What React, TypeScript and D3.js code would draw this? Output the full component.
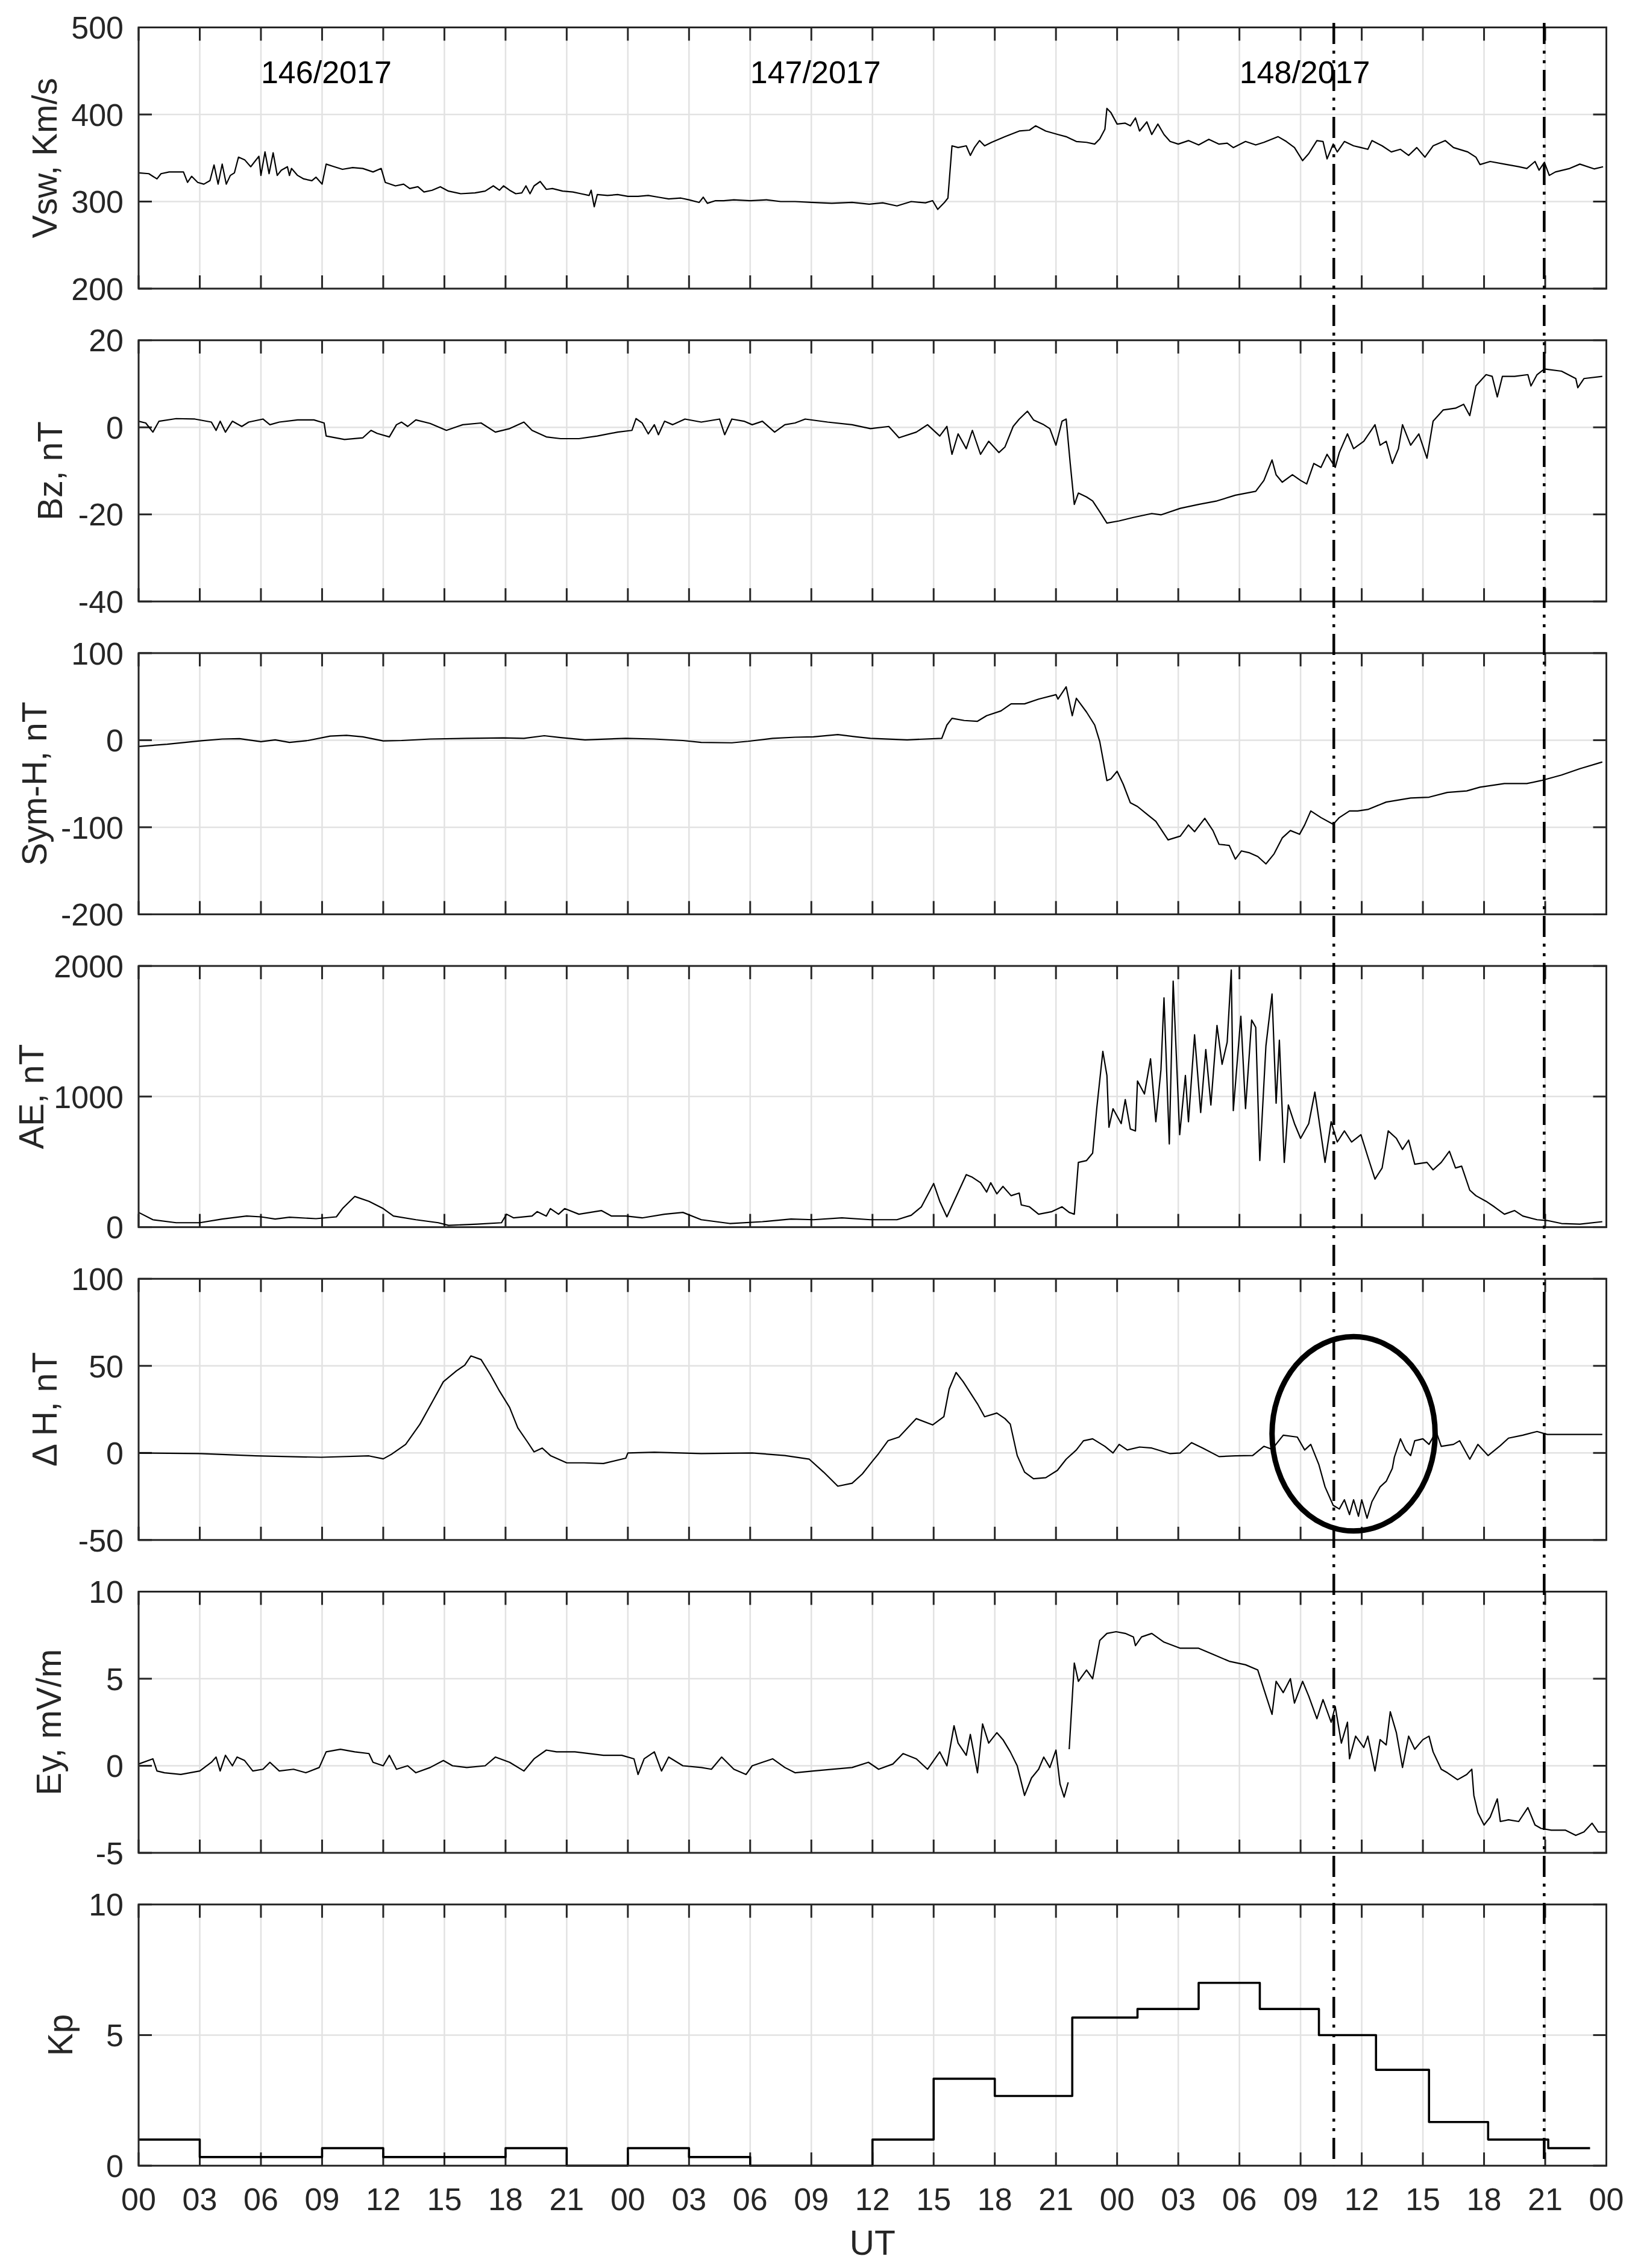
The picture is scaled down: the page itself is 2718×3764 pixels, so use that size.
import React from "react";
import * as d3 from "d3";

const W = 2718;
const H = 3764;
const PLOT_LEFT = 230;
const PLOT_RIGHT = 2665.5;
const PANEL_TOP0 = 45.5;
const PANEL_STEP = 519.2;
const PANEL_H = 433.5;
const FONT = "'Liberation Sans', Arial, Helvetica, sans-serif";
const TXT = "#262626";

const xTickLabels = ["00","03","06","09","12","15","18","21","00","03","06","09","12","15","18","21","00","03","06","09","12","15","18","21","00"];
const xTickHours = [0,3,6,9,12,15,18,21,24,27,30,33,36,39,42,45,48,51,54,57,60,63,66,69,72];
const dayLabels = ["146/2017", "147/2017", "148/2017"];
const dayLabelHours = [6, 30, 54];
const dayLabelValue = 436;
const markerHours = [58.63, 68.95];

const vswData: [number, number][] = [
[0,333],[0.5,332],[0.9,326],[1.1,332],[1.5,334],[2.2,334],[2.4,322],[2.6,329],[2.9,322],[3.2,320],[3.5,324],[3.7,342],[3.9,320],[4.1,343],[4.3,320],[4.5,330],[4.7,333],[4.9,351],[5.2,348],[5.5,340],[5.7,346],[5.9,352],[6.0,330],[6.2,357],[6.4,332],[6.6,356],[6.8,330],[7.0,336],[7.3,340],[7.4,330],[7.5,338],[7.8,330],[8.1,326],[8.5,324],[8.7,328],[9.0,320],[9.2,343],[9.6,340],[10.0,337],[10.5,339],[11.0,338],[11.5,334],[11.9,338],[12.1,322],[12.6,318],[13.0,320],[13.3,315],[13.7,317],[14.0,311],[14.4,313],[14.8,317],[15.2,312],[15.8,309],[16.5,310],[17.0,312],[17.4,318],[17.7,313],[17.9,318],[18.2,313],[18.5,309],[18.8,310],[19.0,318],[19.2,309],[19.4,318],[19.7,323],[20.0,314],[20.3,315],[20.8,312],[21.3,311],[21.7,309],[22.1,307],[22.2,313],[22.35,294],[22.5,308],[23.0,307],[23.5,308],[24.0,306],[24.5,306],[25.0,307],[25.5,305],[26.0,303],[26.6,304],[27.0,302],[27.5,299],[27.7,305],[27.9,298],[28.3,301],[28.7,301],[29.2,302],[30.0,301],[30.8,302],[31.5,300],[32.2,300],[33.0,299],[34.0,298],[35.0,299],[35.84,297],[36.5,298.5],[37.2,295],[37.9,300],[38.6,298.5],[38.95,301],[39.2,291],[39.53,299],[39.7,304],[39.9,364],[40.2,362],[40.6,364],[40.8,353],[41.0,362],[41.25,370],[41.5,364],[41.84,368],[42.5,374.5],[43.2,381],[43.7,382],[44.0,387],[44.5,381],[45.1,377],[45.5,374.5],[46.0,369],[46.5,368],[46.9,366],[47.15,372],[47.4,383],[47.5,407],[47.7,402],[48.0,389],[48.4,390],[48.65,387],[48.9,396],[49.1,381],[49.46,391.5],[49.7,377],[50.0,389],[50.3,377],[50.6,369],[51.0,366],[51.5,370],[52.0,365],[52.5,371.5],[53.0,366],[53.4,367],[53.7,362],[54.3,369],[54.8,365],[55.2,368],[55.9,374.5],[56.3,369],[56.7,362],[57.1,347],[57.4,355],[57.8,370],[58.1,369],[58.3,349],[58.6,366],[58.8,357],[59.15,369],[59.6,364],[59.96,362],[60.3,360],[60.5,370],[61.0,364],[61.45,357],[61.9,360],[62.3,353],[62.7,362],[63.1,351],[63.5,364],[64.1,370],[64.5,362],[65.2,357],[65.6,351],[65.8,342.5],[66.3,346],[67.0,343],[67.7,340],[68.1,338],[68.5,346],[68.7,336],[68.96,345],[69.2,330],[69.5,334],[70.2,338],[70.7,343],[71.4,337.5],[71.84,340]
];

const bzData: [number, number][] = [
[0,1.4],[0.35,1.0],[0.7,-1.1],[1.0,1.4],[1.84,2.0],[2.76,1.9],[3.57,1.2],[3.8,-0.7],[4.0,1.4],[4.26,-1.1],[4.6,1.4],[5.06,0.2],[5.4,1.2],[6.1,1.9],[6.44,0.6],[6.9,1.2],[7.8,1.7],[8.6,1.7],[9.1,1.0],[9.2,-2.0],[10.1,-2.8],[11.0,-2.4],[11.4,-0.7],[11.7,-1.4],[12.3,-2.2],[12.65,0.6],[12.9,1.2],[13.2,0.2],[13.6,1.7],[14.3,0.9],[15.1,-0.7],[15.9,0.6],[16.8,1.0],[17.5,-1.1],[18.2,-0.3],[18.9,1.2],[19.3,-0.7],[20.0,-2.2],[20.7,-2.6],[21.6,-2.6],[22.5,-2.0],[23.5,-1.1],[24.2,-0.7],[24.4,2.0],[24.7,1.0],[25.0,-1.5],[25.3,0.6],[25.5,-1.7],[25.8,1.4],[26.2,0.6],[26.8,1.9],[27.6,1.2],[28.5,1.9],[28.75,-1.7],[29.1,1.9],[29.7,1.4],[30.1,0.6],[30.6,1.4],[31.2,-1.1],[31.7,0.6],[32.2,1.0],[32.7,1.9],[33.8,1.2],[35.0,0.6],[35.9,-0.3],[36.8,0.2],[37.3,-2.4],[38.15,-1.1],[38.7,0.6],[39.3,-2.0],[39.65,0.2],[39.9,-6.2],[40.2,-1.5],[40.6,-4.9],[40.9,-0.7],[41.3,-6.2],[41.7,-3.2],[42.2,-5.8],[42.5,-4.5],[42.9,0.2],[43.2,1.9],[43.6,3.7],[43.9,1.7],[44.4,0.6],[44.7,-0.3],[45.0,-4.1],[45.3,1.4],[45.5,1.9],[45.7,-8.3],[45.9,-17.7],[46.1,-15.1],[46.5,-16],[46.8,-16.9],[47.15,-19.4],[47.5,-22],[48.1,-21.5],[48.8,-20.7],[49.7,-19.8],[50.15,-20.1],[51.1,-18.6],[52.0,-17.7],[52.9,-16.9],[53.8,-15.6],[54.8,-14.7],[55.2,-12.2],[55.6,-7.5],[55.8,-10.9],[56.1,-12.6],[56.6,-10.9],[57.0,-12.2],[57.3,-13.0],[57.65,-8.3],[58.0,-9.2],[58.3,-6.2],[58.7,-9.2],[58.9,-5.8],[59.3,-1.5],[59.6,-4.9],[60.1,-3.2],[60.65,0.6],[60.9,-4.1],[61.2,-3.2],[61.5,-8.3],[61.8,-4.9],[62.0,0.6],[62.4,-4.1],[62.8,-1.5],[63.2,-7.1],[63.5,1.4],[64.0,4.0],[64.6,4.4],[65.0,5.3],[65.3,2.7],[65.6,9.5],[66.1,12.1],[66.4,11.7],[66.65,7.0],[66.9,11.7],[67.5,11.7],[68.15,12.1],[68.3,9.5],[68.6,12.1],[68.96,13.4],[69.8,12.9],[70.5,11.2],[70.6,9.1],[70.9,11.2],[71.8,11.7]
];

const symhData: [number, number][] = [
[0,-7.2],[1.4,-4.7],[3.0,-0.9],[4.1,1.3],[4.95,1.7],[6.0,-1.7],[6.7,0.4],[7.4,-2.6],[8.3,-0.4],[9.4,4.7],[10.2,5.5],[11.0,3.8],[12.0,-0.9],[12.9,-0.4],[14.3,1.3],[16.1,2.1],[17.9,2.6],[18.9,2.1],[19.9,5.1],[20.7,3.0],[21.9,0.4],[23.9,2.1],[25.3,1.3],[26.7,-0.4],[27.6,-2.6],[29.1,-3.0],[29.9,-1.3],[31.1,2.1],[32.2,3.4],[33.1,3.8],[34.3,6.4],[35.2,3.8],[35.9,2.1],[37.7,0.4],[39.4,2.1],[39.65,17.4],[39.9,25.1],[40.5,22.6],[41.15,21.7],[41.6,28.1],[42.3,33.6],[42.8,41.7],[43.46,41.7],[44.15,47.2],[45.0,52.3],[45.1,47.2],[45.5,61.3],[45.8,28.1],[46.0,48.1],[46.5,32.3],[46.9,17.4],[47.15,-1.7],[47.5,-46.4],[47.7,-44.3],[48.0,-35.7],[48.3,-50.6],[48.65,-71.9],[49.0,-76.2],[49.45,-84.7],[49.9,-93.2],[50.5,-114.5],[51.1,-110.2],[51.5,-97.4],[51.8,-105.1],[52.3,-89.8],[52.7,-103.8],[53.0,-119.6],[53.5,-120.9],[53.8,-136.6],[54.1,-127.2],[54.5,-129.4],[54.9,-133.6],[55.3,-142.1],[55.7,-130.6],[56.1,-112.3],[56.5,-103.8],[56.95,-108.1],[57.2,-97.4],[57.5,-81.3],[58.0,-88.9],[58.6,-96.6],[58.9,-88.9],[59.4,-81.3],[59.8,-81.3],[60.3,-79.6],[61.2,-71.1],[62.4,-66.4],[63.3,-65.5],[64.2,-60.0],[65.15,-58.3],[65.8,-54.0],[67.0,-49.8],[68.1,-49.8],[68.8,-46.4],[69.8,-40.0],[70.7,-32.8],[71.8,-25.1]
];

const aeData: [number, number][] = [
[0,113],[0.7,57],[1.84,34],[3.0,34],[4.1,62],[5.3,85],[6.0,79],[6.7,62],[7.4,76],[8.7,65],[9.7,79],[10.0,142],[10.6,235],[11.3,198],[12.0,142],[12.5,85],[13.6,57],[14.7,34],[15.2,14],[16.6,23],[17.8,34],[18.05,99],[18.4,71],[19.3,85],[19.55,119],[20.0,85],[20.2,142],[20.6,99],[20.9,142],[21.6,99],[22.7,127],[23.2,85],[23.9,85],[24.7,71],[25.8,99],[26.7,113],[27.6,57],[29.0,28],[30.6,42],[32.0,62],[33.1,57],[34.5,71],[35.9,57],[37.2,57],[37.9,91],[38.4,156],[39.0,334],[39.3,198],[39.65,79],[40.0,198],[40.6,402],[40.9,382],[41.3,340],[41.6,269],[41.8,340],[42.1,255],[42.4,312],[42.8,241],[43.2,261],[43.3,170],[43.7,156],[44.15,99],[44.8,119],[45.3,156],[45.65,113],[45.9,99],[46.1,496],[46.5,510],[46.8,567],[47.0,907],[47.3,1346],[47.5,1161],[47.6,765],[47.8,907],[48.2,793],[48.4,977],[48.65,751],[48.9,737],[49.0,1119],[49.34,1020],[49.64,1289],[49.9,807],[50.15,1204],[50.3,1756],[50.56,637],[50.75,1884],[51.07,708],[51.35,1161],[51.5,807],[51.8,1473],[52.1,878],[52.35,1360],[52.6,935],[52.9,1544],[53.15,1247],[53.4,1417],[53.6,1969],[53.7,892],[54.07,1615],[54.3,907],[54.6,1586],[54.8,1530],[55.0,510],[55.3,1388],[55.6,1785],[55.8,949],[55.96,1431],[56.2,496],[56.4,935],[56.7,793],[57.0,680],[57.4,793],[57.7,1034],[57.9,822],[58.2,496],[58.5,807],[58.8,652],[59.15,737],[59.5,652],[59.96,708],[60.3,538],[60.65,368],[61.0,453],[61.3,737],[61.7,680],[62.0,595],[62.3,666],[62.6,482],[63.2,496],[63.5,439],[63.9,496],[64.3,581],[64.6,453],[64.9,467],[65.3,283],[65.6,241],[66.1,198],[66.5,156],[67.0,99],[67.5,127],[67.9,85],[68.6,57],[69.1,51],[69.8,28],[70.7,23],[71.8,42]
];

const dhData: [number, number][] = [
[0,0],[3.0,-0.4],[5.75,-1.7],[8.97,-2.5],[11.3,-1.7],[12.0,-3.4],[12.4,-0.8],[13.1,4.9],[13.8,16.5],[14.4,29.2],[14.95,40.9],[15.6,47.2],[16.0,50.4],[16.3,55.7],[16.8,53.6],[17.25,45.1],[17.7,35.6],[18.2,26.1],[18.6,14.4],[19.1,5.9],[19.4,0.6],[19.8,2.8],[20.2,-1.5],[21.0,-5.7],[21.85,-5.7],[22.8,-6.1],[23.9,-3.0],[24.0,0],[25.3,0.4],[27.6,-0.4],[30.1,0],[31.7,-1.5],[32.9,-3.6],[33.6,-11],[34.3,-19.1],[35.0,-17.4],[35.5,-12.1],[36.0,-4.7],[36.3,-0.4],[36.76,7.0],[37.3,9.1],[38.15,19.7],[38.95,16.1],[39.5,20.8],[39.76,36.7],[40.1,46.2],[40.45,40.9],[41.15,28.2],[41.5,20.8],[42.1,22.9],[42.5,19.7],[42.76,16.5],[43.1,-1.5],[43.46,-11.0],[43.9,-14.8],[44.5,-14.2],[45.07,-10.0],[45.5,-3.6],[46.0,1.7],[46.35,7.0],[46.8,8.1],[47.4,3.8],[47.8,0],[48.1,4.9],[48.5,1.7],[49.1,3.4],[49.7,2.8],[50.6,-0.4],[51.1,0],[51.65,5.9],[52.2,2.8],[53.0,-2.1],[53.8,-1.7],[54.65,-1.5],[55.2,3.8],[55.6,2.1],[56.15,10.2],[56.84,9.1],[57.2,1.7],[57.5,4.9],[57.9,-6.8],[58.2,-19.5],[58.6,-30.1],[58.9,-32.2],[59.15,-26.9],[59.4,-35.4],[59.6,-26.9],[59.84,-36.4],[60.0,-26.9],[60.26,-37.5],[60.5,-28],[60.9,-19.5],[61.2,-16.3],[61.5,-8.9],[61.6,-2.5],[61.9,8.1],[62.15,1.7],[62.4,-1.5],[62.6,7.0],[63.0,8.1],[63.3,4.9],[63.65,12.3],[63.9,3.8],[64.5,4.9],[64.8,7.0],[65.3,-3.6],[65.7,4.9],[66.2,-1.5],[66.8,4.2],[67.2,8.5],[67.9,10.2],[68.6,12.3],[69.1,10.6],[70.5,10.6],[71.8,10.6]
];

const eyData: [number, number][] = [
[0,0.1],[0.7,0.4],[0.9,-0.3],[1.27,-0.4],[2.07,-0.5],[3.0,-0.3],[3.57,0.2],[3.8,0.5],[4.0,-0.3],[4.26,0.6],[4.6,0],[4.83,0.5],[5.2,0.3],[5.6,-0.3],[6.1,-0.2],[6.44,0.2],[6.9,-0.3],[7.6,-0.2],[8.2,-0.4],[8.86,-0.1],[9.2,0.8],[9.9,0.95],[10.6,0.8],[11.3,0.7],[11.5,0.2],[12.0,0],[12.3,0.6],[12.65,-0.2],[13.2,0],[13.6,-0.4],[14.3,-0.1],[14.95,0.3],[15.4,0],[16.1,-0.1],[17.0,0],[17.5,0.5],[18.2,0.2],[18.9,-0.3],[19.4,0.4],[20.0,0.9],[20.5,0.8],[21.4,0.8],[22.8,0.6],[23.7,0.6],[24.3,0.4],[24.5,-0.5],[24.8,0.4],[25.3,0.8],[25.65,-0.3],[26.0,0.5],[26.7,0],[27.6,-0.1],[28.1,-0.2],[28.6,0.5],[29.2,-0.2],[29.8,-0.5],[30.1,0],[31.1,0.4],[31.7,-0.1],[32.2,-0.4],[33.1,-0.3],[34.0,-0.2],[35.0,-0.1],[35.8,0.2],[36.3,-0.2],[37.0,0.1],[37.5,0.7],[38.15,0.4],[38.7,-0.2],[39.3,0.8],[39.65,0],[40.0,2.3],[40.2,1.3],[40.6,0.6],[40.8,1.8],[41.15,-0.4],[41.4,2.4],[41.7,1.3],[42.1,1.9],[42.4,1.5],[42.76,0.8],[43.1,0],[43.46,-1.7],[43.8,-0.7],[44.15,-0.2],[44.4,0.5],[44.7,-0.1],[45.0,0.9],[45.2,-1.05],[45.4,-1.8],[45.6,-0.95],[45.62,NaN],[45.65,0.95],[45.9,5.9],[46.1,4.85],[46.5,5.5],[46.8,5.0],[47.15,7.2],[47.5,7.6],[47.95,7.7],[48.4,7.6],[48.8,7.4],[48.9,6.9],[49.2,7.4],[49.7,7.6],[50.3,7.1],[51.1,6.75],[52.0,6.75],[52.7,6.4],[53.5,6.0],[54.3,5.8],[54.9,5.5],[55.2,4.4],[55.6,2.95],[55.8,4.85],[56.15,4.2],[56.5,5.0],[56.7,3.6],[57.1,4.85],[57.4,4.0],[57.8,2.7],[58.1,3.8],[58.5,2.5],[58.7,3.4],[59.0,1.3],[59.3,2.5],[59.4,0.4],[59.7,1.7],[60.1,1.05],[60.3,1.7],[60.65,-0.3],[60.9,1.5],[61.2,1.2],[61.4,3.1],[61.7,1.9],[62.0,-0.1],[62.3,1.7],[62.6,0.95],[63.0,1.5],[63.3,1.7],[63.5,0.8],[63.9,-0.2],[64.2,-0.4],[64.7,-0.8],[65.15,-0.5],[65.4,-0.2],[65.5,-1.7],[65.7,-2.7],[66.0,-3.4],[66.3,-2.95],[66.65,-1.9],[66.8,-3.2],[67.2,-3.1],[67.7,-3.2],[68.15,-2.4],[68.5,-3.4],[68.8,-3.6],[69.3,-3.7],[70.0,-3.7],[70.5,-4.0],[70.9,-3.8],[71.3,-3.3],[71.6,-3.8],[72.0,-3.8]
];

const kpStartHours = [0,3,9,12,18,21,24,27,30,36,39,42,45.8,49,52,55,57.9,60.7,63.3,66.2,69.15];
const kpValues = [1,0.33,0.67,0.33,0.67,0,0.67,0.33,0,1,3.33,2.67,5.67,6,7,6,5,3.67,1.67,1,0.67];
const kpEndHour = 71.2;

const vswTicks = [200, 300, 400, 500];
const bzTicks = [-40, -20, 0, 20];
const symhTicks = [-200, -100, 0, 100];
const aeTicks = [0, 1000, 2000];
const dhTicks = [-50, 0, 50, 100];
const eyTicks = [-5, 0, 5, 10];
const kpTicks = [0, 5, 10];

const ellipseCenter = [59.6, 11];
const ellipseRadii = [4.0, 55.8];

const kpData: [number, number][] = kpStartHours
  .map((h, i) => [h, kpValues[i]] as [number, number])
  .concat([[kpEndHour, kpValues[kpValues.length - 1]]]);

interface PanelDef {
  label: string;
  domain: [number, number];
  ticks: number[];
  data: [number, number][];
  labelX: number;
  step?: boolean;
}

const panels: PanelDef[] = [
  { label: "Vsw, Km/s", domain: [200, 500], ticks: vswTicks, data: vswData, labelX: 94 },
  { label: "Bz, nT", domain: [-40, 20], ticks: bzTicks, data: bzData, labelX: 103 },
  { label: "Sym-H, nT", domain: [-200, 100], ticks: symhTicks, data: symhData, labelX: 77 },
  { label: "AE, nT", domain: [0, 2000], ticks: aeTicks, data: aeData, labelX: 72 },
  { label: "\u0394 H, nT", domain: [-50, 100], ticks: dhTicks, data: dhData, labelX: 94 },
  { label: "Ey, mV/m", domain: [-5, 10], ticks: eyTicks, data: eyData, labelX: 101 },
  { label: "Kp", domain: [0, 10], ticks: kpTicks, data: kpData, labelX: 120, step: true },
];

const x = d3.scaleLinear().domain([0, 72]).range([PLOT_LEFT, PLOT_RIGHT]);

const TICK_FS = 52;
const LABEL_FS = 57;
const TICK_LEN = 22;
const GRID = "#e2e2e2";

function Panel({ p, idx }: { p: PanelDef; idx: number }) {
  const top = PANEL_TOP0 + idx * PANEL_STEP;
  const bottom = top + PANEL_H;
  const y = d3.scaleLinear().domain(p.domain).range([bottom, top]);
  const line = d3
    .line<[number, number]>()
    .defined((d) => !isNaN(d[1]))
    .x((d) => x(d[0]))
    .y((d) => y(d[1]))
    .curve(p.step ? d3.curveStepAfter : d3.curveLinear);
  const isLast = idx === panels.length - 1;
  const midY = (top + bottom) / 2;
  return (
    <g>
      {xTickHours.map((h, i) => (
        <line key={"gx" + i} x1={x(h)} x2={x(h)} y1={top} y2={bottom} stroke={GRID} strokeWidth={2.5} />
      ))}
      {p.ticks.map((t, i) => (
        <line key={"gy" + i} x1={PLOT_LEFT} x2={PLOT_RIGHT} y1={y(t)} y2={y(t)} stroke={GRID} strokeWidth={2.5} />
      ))}
      {xTickHours.map((h, i) => (
        <g key={"tx" + i}>
          <line x1={x(h)} x2={x(h)} y1={top} y2={top + TICK_LEN} stroke={TXT} strokeWidth={3} />
          <line x1={x(h)} x2={x(h)} y1={bottom} y2={bottom - TICK_LEN} stroke={TXT} strokeWidth={3} />
        </g>
      ))}
      {p.ticks.map((t, i) => (
        <g key={"ty" + i}>
          <line x1={PLOT_LEFT} x2={PLOT_LEFT + TICK_LEN} y1={y(t)} y2={y(t)} stroke={TXT} strokeWidth={3} />
          <line x1={PLOT_RIGHT} x2={PLOT_RIGHT - TICK_LEN} y1={y(t)} y2={y(t)} stroke={TXT} strokeWidth={3} />
          <text x={PLOT_LEFT - 25} y={y(t) + TICK_FS * 0.36} textAnchor="end" fontSize={TICK_FS} fill={TXT} fontFamily={FONT}>
            {String(t)}
          </text>
        </g>
      ))}
      <path
        d={line(p.data) || ""}
        fill="none"
        stroke="#000"
        strokeWidth={p.step ? 3.6 : 2.2}
        strokeLinejoin="round"
      />
      <rect x={PLOT_LEFT} y={top} width={PLOT_RIGHT - PLOT_LEFT} height={PANEL_H} fill="none" stroke={TXT} strokeWidth={3} />
      <text
        transform={`translate(${p.labelX},${midY}) rotate(-90)`}
        textAnchor="middle"
        fontSize={LABEL_FS}
        fill={TXT}
        fontFamily={FONT}
      >
        {p.label}
      </text>
      {idx === 0 &&
        dayLabels.map((s, i) => (
          <text key={"d" + i} x={x(dayLabelHours[i])} y={y(dayLabelValue)} fontSize={TICK_FS} fill="#000" fontFamily={FONT}>
            {s}
          </text>
        ))}
      {idx === 4 && (
        <ellipse
          cx={x(ellipseCenter[0])}
          cy={y(ellipseCenter[1])}
          rx={x(ellipseCenter[0] + ellipseRadii[0]) - x(ellipseCenter[0])}
          ry={y(ellipseCenter[1]) - y(ellipseCenter[1] + ellipseRadii[1])}
          fill="none"
          stroke="#000"
          strokeWidth={9}
        />
      )}
      {isLast &&
        xTickHours.map((h, i) => (
          <text key={"xl" + i} x={x(h)} y={bottom + 55 + TICK_FS * 0.36} textAnchor="middle" fontSize={TICK_FS} fill={TXT} fontFamily={FONT}>
            {xTickLabels[i]}
          </text>
        ))}
      {isLast && (
        <text x={(PLOT_LEFT + PLOT_RIGHT) / 2} y={bottom + 148} textAnchor="middle" fontSize={LABEL_FS} fill={TXT} fontFamily={FONT}>
          UT
        </text>
      )}
    </g>
  );
}

export default function App() {
  const lastBottom = PANEL_TOP0 + (panels.length - 1) * PANEL_STEP + PANEL_H;
  return (
    <svg
      width={W}
      height={H}
      viewBox={`0 0 ${W} ${H}`}
      style={{ position: "absolute", left: 0, top: 0, background: "#fff" }}
    >
      <rect x={0} y={0} width={W} height={H} fill="#fff" />
      {panels.map((p, i) => (
        <Panel key={i} p={p} idx={i} />
      ))}
      {markerHours.map((h, i) => (
        <line
          key={"m" + i}
          x1={x(h)}
          x2={x(h)}
          y1={38}
          y2={lastBottom}
          stroke="#000"
          strokeWidth={4.5}
          strokeDasharray="35 11 5 11 5 11"
        />
      ))}
    </svg>
  );
}
